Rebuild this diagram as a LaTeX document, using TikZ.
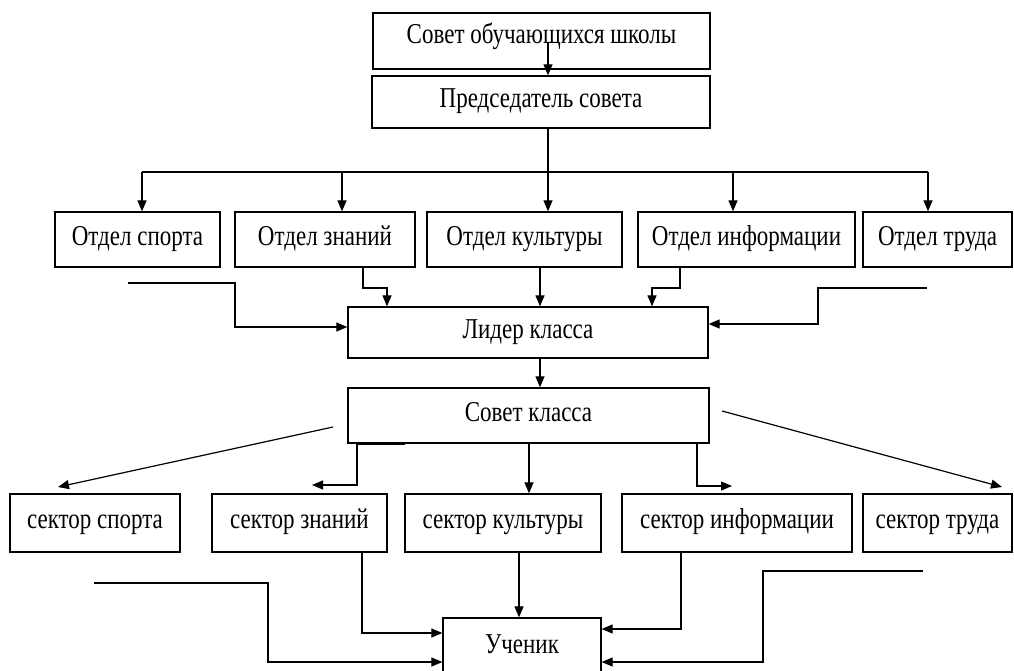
\documentclass[tikz,border=0pt]{standalone}
\usepackage{fontspec}
\setmainfont{Liberation Serif}
\usetikzlibrary{arrows.meta}
\newcommand\Tx[1]{\scalebox{1}[1.25]{#1}}
\tikzset{
  box/.style={draw, line width=1.3pt, inner sep=0pt, text height=17pt, text depth=6pt, font=\fontsize{23}{25}\selectfont},
  arr/.style={line width=1.2pt, -{Triangle[length=11pt,width=9pt]}},
  ln/.style={line width=1.2pt},
}
\begin{document}
\begin{tikzpicture}[x=1pt,y=-1pt]
\clip (0,0) rectangle (1014,671);
\fill[white] (0,0) rectangle (1014,671);
% boxes
\node[box, minimum width=337pt, minimum height=56pt, text depth=9pt, text height=15pt] (top) at (541.5,41) {\Tx{Совет обучающихся школы}};
\node[box, minimum width=338pt, minimum height=52pt] (pred) at (541,102) {\Tx{Председатель совета}};
\node[box, minimum width=165pt, minimum height=55pt] (d1) at (137.5,239.5) {\Tx{Отдел спорта}};
\node[box, minimum width=180pt, minimum height=55pt] (d2) at (325,239.5) {\Tx{Отдел знаний}};
\node[box, minimum width=195pt, minimum height=55pt] (d3) at (524.5,239.5) {\Tx{Отдел культуры}};
\node[box, minimum width=217pt, minimum height=55pt] (d4) at (746.5,239.5) {\Tx{Отдел информации}};
\node[box, minimum width=149pt, minimum height=55pt] (d5) at (937.5,239.5) {\Tx{Отдел труда}};
\node[box, minimum width=360pt, minimum height=51pt] (lider) at (528,332.5) {\Tx{Лидер класса}};
\node[box, minimum width=361pt, minimum height=55pt] (sovet) at (528.5,415.5) {\Tx{Совет класса}};
\node[box, minimum width=170pt, minimum height=58pt] (s1) at (95,523) {\Tx{сектор спорта}};
\node[box, minimum width=175pt, minimum height=58pt] (s2) at (299.5,523) {\Tx{сектор знаний}};
\node[box, minimum width=196pt, minimum height=58pt] (s3) at (503,523) {\Tx{сектор культуры}};
\node[box, minimum width=230pt, minimum height=58pt] (s4) at (737,523) {\Tx{сектор информации}};
\node[box, minimum width=149pt, minimum height=58pt] (s5) at (937.5,523) {\Tx{сектор труда}};
\node[box, minimum width=158pt, minimum height=72pt, text depth=19pt] (uch) at (522,654) {\Tx{Ученик}};
% top to chairman
\coordinate (c0) at (548,43);
\draw[arr] (c0) -- (c0 |- pred.north);
% bus
\coordinate (bus0) at (548,172);
\coordinate (b1) at (142,172);
\coordinate (b2) at (342,172);
\coordinate (b3) at (548,172);
\coordinate (b4) at (733,172);
\coordinate (b5) at (928,172);
\draw[ln] (bus0 |- pred.south) -- (bus0);
\draw[ln] (b1) -- (b5);
\draw[arr] (b1) -- (b1 |- d1.north);
\draw[arr] (b2) -- (b2 |- d2.north);
\draw[arr] (b3) -- (b3 |- d3.north);
\draw[arr] (b4) -- (b4 |- d4.north);
\draw[arr] (b5) -- (b5 |- d5.north);
% into leader
\coordinate (L1) at (128,283);
\draw[arr] (L1) -- (235,283) -- (235,327) -- (lider.west |- 0,327);
\coordinate (k2) at (363,288);
\draw[arr] (k2 |- d2.south) -- (k2) -- (387,288) -- (387,288 |- lider.north);
\coordinate (k3) at (540,288);
\draw[arr] (k3 |- d3.south) -- (k3 |- lider.north);
\coordinate (k4) at (680,288);
\draw[arr] (k4 |- d4.south) -- (k4) -- (652,288) -- (652,288 |- lider.north);
\coordinate (R1) at (927,288);
\draw[arr] (R1) -- (818,288) -- (818,324) -- (lider.east |- 0,324);
% leader to class council
\coordinate (k5) at (540,370);
\draw[arr] (k5 |- lider.south) -- (k5 |- sovet.north);
\draw[line width=3pt] (358,443) -- (405,443);
% class council to sectors
\coordinate (dl) at (333,427);
\coordinate (dlt) at (58,487);
\draw[arr] (dl) -- (dlt);
\coordinate (m2) at (357,485);
\draw[arr] (m2 |- sovet.south) -- (m2) -- (312,485);
\coordinate (m3) at (529,470);
\draw[arr] (m3 |- sovet.south) -- (m3 |- s3.north);
\coordinate (m4) at (697,486);
\draw[arr] (m4 |- sovet.south) -- (m4) -- (732,486);
\coordinate (dr) at (722,411);
\coordinate (drt) at (1002,487);
\draw[arr] (dr) -- (drt);
% into pupil
\coordinate (u2) at (362,633);
\draw[arr] (u2 |- s2.south) -- (u2) -- (uch.west |- u2);
\coordinate (UL) at (94,583);
\draw[arr] (UL) -- (268,583) -- (268,662) -- (uch.west |- 0,662);
\coordinate (u3) at (519,600);
\draw[arr] (u3 |- s3.south) -- (u3 |- uch.north);
\coordinate (u4) at (681,629);
\draw[arr] (u4 |- s4.south) -- (u4) -- (uch.east |- u4);
\coordinate (UR) at (923,571);
\draw[arr] (UR) -- (763,571) -- (763,662) -- (uch.east |- 0,662);
\end{tikzpicture}
\end{document}
